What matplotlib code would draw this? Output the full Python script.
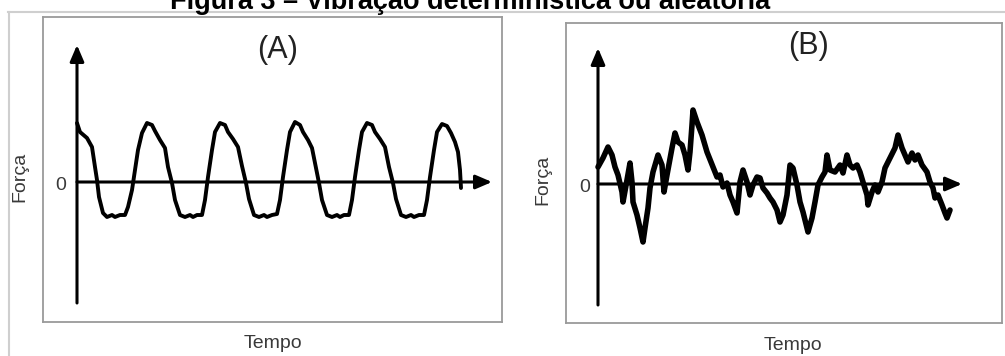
import matplotlib
matplotlib.use("Agg")
import matplotlib.pyplot as plt
from matplotlib.lines import Line2D

plt.rcParams['font.family'] = ['Liberation Sans', 'DejaVu Sans']

W, H = 1005, 356

# (A) deterministic signal: time vs force
tA = [0, 3, 10, 15, 18, 20, 22, 26, 30, 35, 38, 43, 48, 51, 55, 58, 61, 65, 70,
      75, 78, 83, 88, 91, 95, 98, 103, 108, 113, 116, 120, 125, 128, 131, 135, 138, 143,
      148, 151, 156, 161, 165, 169, 172, 177, 182, 187, 190, 195, 200, 203, 206, 210, 213, 218,
      223, 226, 231, 235, 239, 242, 245, 250, 255, 260, 263, 267, 272, 275, 278, 282, 285, 290,
      295, 298, 303, 308, 312, 316, 319, 324, 329, 334, 337, 342, 347, 350, 353, 357, 360, 365,
      370, 374, 378, 381, 383, 384]
fA = [59, 50, 44, 35, 15, 2, -15, -31, -35, -33, -35, -33, -33, -25, -8, 12, 32, 49, 59,
      57, 51, 42, 34, 15, -1, -18, -33, -35, -33, -35, -33, -33, -18, 5, 32, 50, 59,
      57, 50, 43, 35, 16, -1, -17, -33, -35, -33, -35, -33, -32, -18, 5, 32, 50, 60,
      57, 50, 42, 34, 14, -1, -18, -33, -35, -33, -35, -33, -33, -18, 5, 32, 50, 59,
      57, 50, 43, 35, 15, -1, -17, -33, -35, -33, -35, -33, -33, -18, 5, 32, 50, 58,
      56, 49, 40, 30, 12, -6]

# (B) random signal
tB = [0, 5, 10, 14, 17, 20, 24, 25, 29, 32, 34, 35, 39, 42, 45, 47, 50, 52, 55, 60,
      64, 66, 69, 74, 77, 80, 84, 87, 90, 92, 94, 95, 99, 104, 109, 115, 119, 122, 125, 129,
      132, 135, 139, 142, 145, 149, 152, 155, 159, 162, 165, 169, 172, 175, 179, 182, 185, 189,
      192, 195, 199, 202, 205, 210, 214, 217, 220, 224, 227, 229, 232, 237, 242, 245, 249, 252,
      255, 259, 262, 265, 269, 270, 274, 277, 280, 284, 287, 292, 297, 300, 304, 307, 310, 314,
      317, 320, 324, 329, 332, 335, 337, 340, 344, 347, 349, 352]
fB = [17, 26, 37, 29, 17, 9, -8, -18, 4, 21, 2, -18, -31, -44, -58, -44, -24, -4, 12, 29,
      19, -8, 9, 36, 51, 42, 39, 29, 14, 32, 59, 74, 62, 49, 32, 17, 7, 9, -3, 1,
      -11, -18, -29, 2, 14, 2, -11, -1, 7, 6, -4, -9, -14, -18, -26, -38, -31, -11,
      19, 16, -1, -18, -28, -48, -34, -18, -1, 7, 12, 29, 14, 12, 19, 11, 29, 19,
      16, 19, 12, 2, -11, -21, -8, -1, -8, 2, 16, 26, 36, 49, 36, 29, 22, 31,
      24, 29, 19, 12, 2, -4, -14, -11, -21, -29, -34, -26]

fig = plt.figure(figsize=(W / 100, H / 100), dpi=100)


def box(x0, y0, x1, y1):
    return [x0 / W, 1 - y1 / H, (x1 - x0) / W, (y1 - y0) / H]


def panel(rect, t, f, xlim, ylim, ytop, ybot, xend, lw):
    ax = fig.add_axes(rect)
    ax.set_xlim(*xlim)
    ax.set_ylim(*ylim)
    ax.set_xticks([])
    ax.set_yticks([])
    for s in ax.spines.values():
        s.set_color('#9a9a9a')
        s.set_linewidth(1.3)
    arr = dict(arrowstyle='-|>,head_length=0.7,head_width=0.3', lw=2.2,
               color='black', mutation_scale=14, shrinkA=0, shrinkB=0)
    ax.annotate('', xy=(0, ytop), xytext=(0, ybot), arrowprops=arr)
    ax.annotate('', xy=(xend, 0), xytext=(0, 0), arrowprops=arr)
    ax.plot(t, f, color='black', lw=lw, solid_joinstyle='round', solid_capstyle='round')
    return ax


axA = panel(box(43, 17, 502, 322), tA, fA, (-34, 425), (-140, 165), 137, -121, 415, 2.8)
axB = panel(box(566, 23, 1002, 323), tB, fB, (-32, 404), (-139, 161), 136, -121, 364, 4.0)

txt = '#3a3a3a'
fig.text(278 / W, 1 - 50 / H, '(A)', fontsize=22, ha='center', va='center', color='#222222')
fig.text(808 / W, 1 - 46 / H, '(B)', fontsize=22, ha='center', va='center', color='#222222')
fig.text(273 / W, 1 - 343 / H, 'Tempo', fontsize=14, ha='center', va='center', color=txt)
fig.text(793 / W, 1 - 345 / H, 'Tempo', fontsize=14, ha='center', va='center', color=txt)
fig.text(20 / W, 1 - 177 / H, 'Força', fontsize=14, rotation=90, ha='center', va='center', color=txt)
fig.text(543 / W, 1 - 180 / H, 'Força', fontsize=14, rotation=90, ha='center', va='center', color=txt)
fig.text(61 / W, 1 - 185 / H, '0', fontsize=14, ha='center', va='center', color=txt)
fig.text(585 / W, 1 - 188 / H, '0', fontsize=14, ha='center', va='center', color=txt)

fig.text(470 / W, 1 - 9 / H, 'Figura 3 – Vibração determinística ou aleatória',
         fontsize=19.5, fontweight='bold', ha='center', va='baseline')

# light frame of the screenshot
fig.add_artist(Line2D([8 / W, 1], [1 - 12 / H, 1 - 12 / H], color='#cfcfcf', lw=1.5))
fig.add_artist(Line2D([9 / W, 9 / W], [1 - 12 / H, 0], color='#cfcfcf', lw=1.5))

fig.savefig('out.png', dpi=100)
